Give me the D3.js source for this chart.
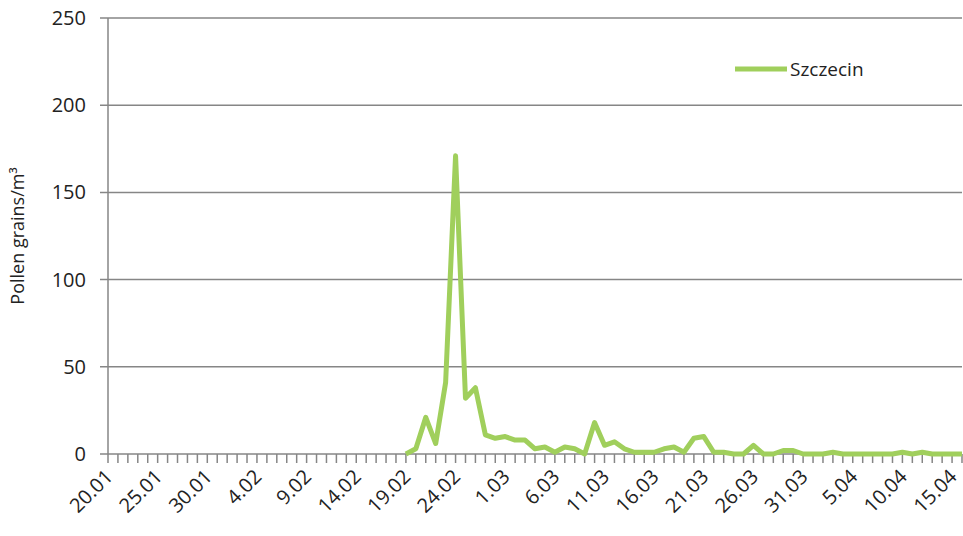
<!DOCTYPE html>
<html><head><meta charset="utf-8">
<script src="https://cdn.jsdelivr.net/npm/d3@7"></script>
<style>body{margin:0;background:#fff}text{font-family:"Open Sans",sans-serif}</style>
</head><body><div id="chart"></div>
<script>
// days 20.01 .. 16.04
const days = [];
(function () {
    const start = new Date(2014, 0, 20);
    for (let i = 0; i < 87; i++) {
        const d = new Date(start.getTime() + i * 86400000);
        days.push(d.getDate() + "." + String(d.getMonth() + 1).padStart(2, "0"));
    }
})();
// null = no measurement (season not started)
const values = [
    null,null,null,null,null,null,null,null,null,null,
    null,null,null,null,null,null,null,null,null,null,
    null,null,null,null,null,null,null,null,null,null,
    0,3,21,6,41,171,32,38,11,9, 10,8,8,3,4,1,4,3,0,18,
    5,7,3,1,1,1,3,4,1,9, 10,1,1,0,0,5,0,0,2,2,
    0,0,0,1,0,0,0,0,0,0, 1,0,1,0,0,0,0
];
const yTicks = [0, 50, 100, 150, 200, 250];
const seriesName = "Szczecin";
const colour = "#a0cf5c";

const width = 963, height = 536;
const mLeft = 108, mRight = 962, mTop = 18, mBottom = 454;

const svg = d3.select("#chart").append("svg").attr("width", width).attr("height", height);

const x = d3.scalePoint().domain(days).range([mLeft, mRight]);
const y = d3.scaleLinear().domain([0, 250]).range([mBottom, mTop]);

// gridlines
svg.append("g").selectAll("line").data(yTicks).join("line")
    .attr("x1", mLeft - 8).attr("x2", mRight)
    .attr("y1", d => y(d)).attr("y2", d => y(d))
    .attr("stroke", "#868686").attr("stroke-width", 1.5);

svg.append("g").selectAll("text").data(yTicks).join("text")
    .attr("x", 86).attr("y", d => y(d) + 7)
    .attr("text-anchor", "end").attr("font-size", 20).attr("fill", "#222")
    .text(d => d);

// y axis line
svg.append("line").attr("x1", mLeft).attr("x2", mLeft).attr("y1", mTop).attr("y2", mBottom)
    .attr("stroke", "#868686").attr("stroke-width", 1.5);

// x ticks
svg.append("g").selectAll("line").data(days).join("line")
    .attr("x1", d => x(d)).attr("x2", d => x(d))
    .attr("y1", mBottom).attr("y2", mBottom + 9)
    .attr("stroke", "#868686").attr("stroke-width", 1.5);

svg.append("g").selectAll("text").data(days.filter((d, i) => i % 5 === 0)).join("text")
    .attr("transform", d => "translate(" + (x(d) + 6) + "," + (mBottom + 24) + ") rotate(-45)")
    .attr("text-anchor", "end").attr("font-size", 20).attr("fill", "#222")
    .text(d => d);

// line
const line = d3.line().defined(d => d !== null).x((d, i) => x(days[i])).y(d => y(d));
svg.append("path").datum(values)
    .attr("d", line).attr("fill", "none")
    .attr("stroke", colour).attr("stroke-width", 5).attr("stroke-linejoin", "round");

// y label
svg.append("text")
    .attr("transform", "translate(24," + ((mTop + mBottom) / 2) + ") rotate(-90)")
    .attr("text-anchor", "middle").attr("font-size", 18).attr("fill", "#222")
    .text("Pollen grains/m³");

// legend
svg.append("line").attr("x1", 735).attr("x2", 787).attr("y1", 69).attr("y2", 69)
    .attr("stroke", colour).attr("stroke-width", 5);
svg.append("text").attr("x", 790).attr("y", 76).attr("font-size", 19).attr("fill", "#222")
    .text(seriesName);
</script>
</body></html>
